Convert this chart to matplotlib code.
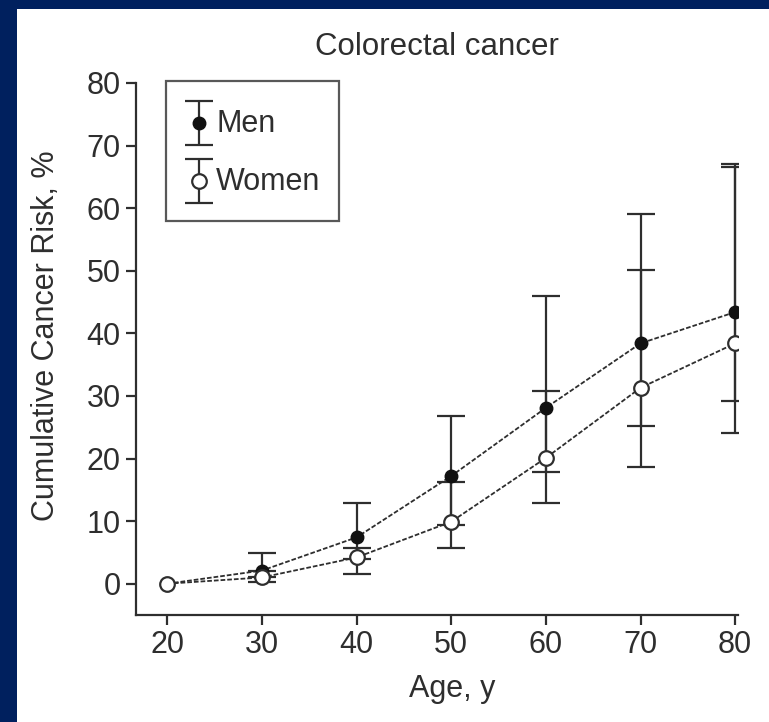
import matplotlib
matplotlib.use("Agg")
import matplotlib.pyplot as plt
import numpy as np
from matplotlib.patches import Rectangle
from matplotlib.legend_handler import HandlerErrorbar
from matplotlib.transforms import Affine2D

# ---- data ----
ages = [20, 30, 40, 50, 60, 70, 80]
men = [0.0, 2.1, 7.4, 17.2, 28.1, 38.4, 43.4]
men_lo = [0.0, 1.0, 4.0, 9.4, 17.9, 25.2, 29.2]
men_hi = [0.0, 4.9, 12.9, 26.8, 45.9, 59.0, 67.1]
women = [0.0, 1.0, 4.2, 9.9, 20.1, 31.3, 38.4]
women_lo = [0.0, 0.3, 1.6, 5.7, 12.9, 18.7, 24.1]
women_hi = [0.0, 2.0, 5.7, 16.3, 30.8, 50.1, 66.5]
xticks = [20, 30, 40, 50, 60, 70, 80]
yticks = [0, 10, 20, 30, 40, 50, 60, 70, 80]
title = "Colorectal cancer"
xlabel = "Age, y"
ylabel = "Cumulative Cancer Risk, %"
labels = ["Men", "Women"]

plt.rcParams['font.family'] = ['Liberation Sans', 'DejaVu Sans']
ink = '#2e2e2e'
navy = '#00205e'
W, H = 769, 722
dpi = 100
fig = plt.figure(figsize=(W / dpi, H / dpi), dpi=dpi, facecolor=navy)
bg = Rectangle((17 / W, 0), 1 - 17 / W, 1 - 9 / H,
               transform=fig.transFigure, facecolor='white',
               edgecolor='none', zorder=-10)
fig.add_artist(bg)

ax = fig.add_axes([136 / W, 1 - 615 / H, 602 / W, 532 / H])
ax.set_facecolor('none')

x = np.array(ages)
m = np.array(men); w = np.array(women)
merr = np.array([m - np.array(men_lo), np.array(men_hi) - m])
werr = np.array([w - np.array(women_lo), np.array(women_hi) - w])

ekw = dict(fmt='none', ecolor=ink, elinewidth=1.6, capsize=10, capthick=1.6)
ax.errorbar(x[1:], m[1:], yerr=merr[:, 1:], zorder=2, **ekw)
ax.errorbar(x[1:], w[1:], yerr=werr[:, 1:], zorder=2, **ekw)

dash = (0, (2.6, 1.1))
ax.plot(x, m, color=ink, lw=1.3, ls=dash, zorder=3)
ax.plot(x, w, color=ink, lw=1.3, ls=dash, zorder=3)
ax.plot(x, m, ls='none', marker='o', ms=9, mfc='#111111', mec='#111111', zorder=4)
ax.plot(x, w, ls='none', marker='o', ms=10.5, mfc='white', mec=ink, mew=1.6, zorder=5)


class ShiftedErrorbarHandler(HandlerErrorbar):
    """Errorbar legend handle moved down a little to sit level with its label."""
    def __init__(self, dy_px, **kw):
        super().__init__(**kw)
        self.dy = dy_px

    def create_artists(self, legend, orig_handle, xdescent, ydescent,
                       width, height, fontsize, trans):
        t = Affine2D().translate(0, -self.dy * 72.0 / dpi) + trans
        return super().create_artists(legend, orig_handle, xdescent, ydescent,
                                      width, height, fontsize, t)


# legend handles (not visible in the plot area)
h1 = ax.errorbar([np.nan], [np.nan], yerr=[1], fmt='o', ms=9, mfc='#111111',
                 mec='#111111', ecolor=ink, elinewidth=1.6, capsize=10, capthick=1.6)
h2 = ax.errorbar([np.nan], [np.nan], yerr=[1], fmt='o', ms=10.5, mfc='white',
                 mec=ink, mew=1.6, ecolor=ink, elinewidth=1.6, capsize=10, capthick=1.6)
fs = 22
fpx = fs * dpi / 72.0
hh = (46 / fpx - 0.245) / 0.65
leg = ax.legend([h1, h2], labels, loc='upper left',
                bbox_to_anchor=(166 / W, 1 - 81 / H), bbox_transform=fig.transFigure,
                fontsize=fs, frameon=True, fancybox=False, borderpad=18 / fpx,
                handlelength=30 / fpx, handletextpad=0.07, handleheight=hh,
                labelspacing=12 / fpx, borderaxespad=0,
                handler_map={type(h1): ShiftedErrorbarHandler(8, yerr_size=0.72)})
leg.get_frame().set_edgecolor(ink)
leg.get_frame().set_linewidth(1.6)
for t in leg.get_texts():
    t.set_color(ink)

ax.set_xlim(16.7, 80.3)
ax.set_ylim(-5, 80)
ax.set_xticks(xticks)
ax.set_yticks(yticks)
for s in ['top', 'right']:
    ax.spines[s].set_visible(False)
for s in ['left', 'bottom']:
    ax.spines[s].set_color(ink)
    ax.spines[s].set_linewidth(1.6)
ax.tick_params(colors=ink, labelcolor=ink, width=1.6, length=7, labelsize=fs, pad=4)

ax.set_title(title, fontsize=fs + 0.5, color=ink, pad=20)
ax.set_xlabel(xlabel, fontsize=fs, color=ink)
ax.set_ylabel(ylabel, fontsize=fs, color=ink)
ax.yaxis.set_label_coords((61 - 136) / 602, (615 - 336) / 532)
ax.xaxis.set_label_coords((452 - 136) / 602, (615 - 674) / 532)

fig.savefig('out.png', dpi=dpi, facecolor=navy)
